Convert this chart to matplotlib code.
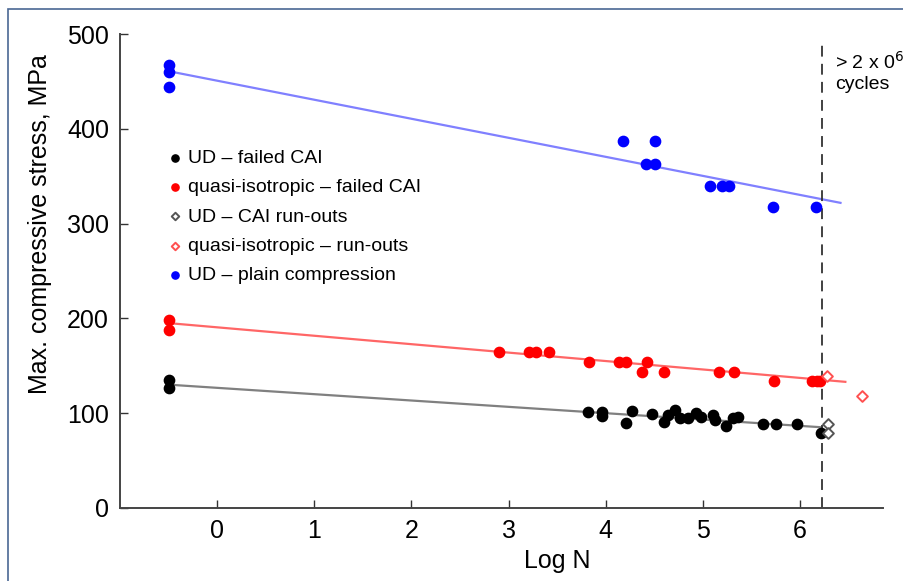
import numpy as np
import matplotlib.pyplot as plt
from matplotlib.patches import Rectangle

plt.rcParams['font.family'] = ['Liberation Sans', 'DejaVu Sans']

# UD - failed CAI (black)
ud_cai_x = [-0.5, -0.5, 3.82, 3.96, 3.96, 4.21, 4.27, 4.48, 4.60, 4.64, 4.71, 4.77,
            4.85, 4.93, 4.98, 5.11, 5.13, 5.24, 5.31, 5.36, 5.62, 5.76, 5.97, 6.22]
ud_cai_y = [135, 127, 101, 101, 97, 90, 102, 99, 91, 98, 103, 95,
            95, 100, 96, 98, 93, 86, 95, 96, 88, 88, 88, 79]

# quasi-isotropic - failed CAI (red)
qi_cai_x = [-0.5, -0.5, 2.90, 3.21, 3.28, 3.42, 3.83, 4.14, 4.21, 4.43, 4.38, 4.60,
            5.17, 5.32, 5.74, 6.13, 6.18, 6.21]
qi_cai_y = [198, 188, 165, 165, 165, 165, 154, 154, 154, 154, 143, 143,
            143, 143, 134, 134, 134, 134]

# run-outs
ud_run_x = [6.29, 6.29]
ud_run_y = [88, 79]
qi_run_x = [6.28, 6.64]
qi_run_y = [139, 118]

# UD - plain compression (blue)
ud_pc_x = [-0.5, -0.5, -0.5, 4.18, 4.51, 4.42, 4.51, 5.08, 5.20, 5.27, 5.72, 6.17]
ud_pc_y = [468, 460, 444, 387, 387, 363, 363, 340, 340, 340, 318, 318]

# trend lines (end points)
blue_fit_x, blue_fit_y = [-0.5, 6.42], [461, 322]
red_fit_x, red_fit_y = [-0.5, 6.47], [195, 133]
black_fit_x, black_fit_y = [-0.5, 6.23], [130, 85]

runout_logN = 6.23

fig = plt.figure(figsize=(9.04, 5.81), dpi=100)
ax = fig.add_axes([0.133, 0.126, 0.844, 0.815])

# figure border
fig.patches.append(Rectangle((8/904, -0.02), 1.1, 1 - 9/581 + 0.02, transform=fig.transFigure,
                             fill=False, edgecolor='#4a6794', linewidth=1.2))

ax.plot(blue_fit_x, blue_fit_y, color='#8080ff', lw=1.6)
ax.plot(red_fit_x, red_fit_y, color='#ff6666', lw=1.6)
ax.plot(black_fit_x, black_fit_y, color='#808080', lw=1.6)

ax.scatter(ud_cai_x, ud_cai_y, s=55, color='black', zorder=3, label='UD – failed CAI')
ax.scatter(qi_cai_x, qi_cai_y, s=55, color='#ff0000', zorder=3, label='quasi-isotropic – failed CAI')
ax.scatter(ud_run_x, ud_run_y, s=30, marker='D', facecolor='white', edgecolor='#555555',
           linewidth=1.4, zorder=3, label='UD – CAI run-outs')
ax.scatter(qi_run_x, qi_run_y, s=30, marker='D', facecolor='white', edgecolor='#ff5050',
           linewidth=1.4, zorder=3, label='quasi-isotropic – run-outs')
ax.scatter(ud_pc_x, ud_pc_y, s=55, color='#0000ff', zorder=3, label='UD – plain compression')

ax.axvline(runout_logN, ymax=0.985, color='#333333', lw=1.3, ls=(0, (6, 4)))
ax.text(6.36, 482, '> 2 x 0$^{6}$\ncycles', fontsize=14, va='top', ha='left', linespacing=1.2)

ax.set_xlim(-1, 6.86)
ax.set_ylim(0, 500)
ax.set_xticks(range(0, 7))
ax.set_yticks(range(0, 501, 100))
ax.tick_params(direction='in', length=6, width=1, color='#333333', labelsize=18, pad=8)
for s in ['top', 'right']:
    ax.spines[s].set_visible(False)
for s in ['left', 'bottom']:
    ax.spines[s].set_color('#444444')
    ax.spines[s].set_linewidth(1.4)

ax.set_xlabel('Log N', fontsize=18)
ax.set_ylabel('Max. compressive stress, MPa', fontsize=18)
ax.xaxis.set_label_coords(0.573, -0.087)
ax.yaxis.set_label_coords(-0.09, 0.60)

ax.legend(loc='upper left', bbox_to_anchor=(0.064, 0.757), frameon=False, fontsize=14,
          markerscale=0.7, handlelength=0.6, handletextpad=0.35, labelspacing=0.6,
          borderaxespad=0, borderpad=0)

fig.savefig('out.png', dpi=100)
